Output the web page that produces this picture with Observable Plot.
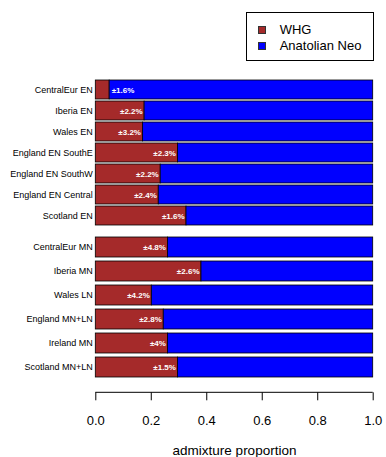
<!DOCTYPE html>
<html><head><meta charset="utf-8">
<script src="https://cdn.jsdelivr.net/npm/d3@7"></script>
<script src="https://cdn.jsdelivr.net/npm/@observablehq/plot@0.6"></script>
<style>
body{margin:0;background:#fff;font-family:"Liberation Sans",Arial,Helvetica,sans-serif;}
#wrap{position:relative;width:386px;height:457px;overflow:hidden;}
#wrap svg{display:block;}
.legend{position:absolute;left:246px;top:12px;width:128px;height:49px;border:1px solid #000;box-sizing:border-box;background:#fff;}
.legend .sw{position:absolute;left:11px;width:8px;height:8px;box-sizing:border-box;border:1px solid #333;}
.legend .lb{position:absolute;left:32.7px;font-size:13px;line-height:16px;color:#000;white-space:nowrap;}
</style>
</head><body>
<div id="wrap"></div>
<script>
const groupEN = ["CentralEur EN","Iberia EN","Wales EN","England EN SouthE","England EN SouthW","England EN Central","Scotland EN"];
const whgEN = [0.05,0.176,0.17,0.296,0.234,0.227,0.327];
const errEN = [1.6,2.2,3.2,2.3,2.2,2.4,1.6];
const groupMN = ["CentralEur MN","Iberia MN","Wales LN","England MN+LN","Ireland MN","Scotland MN+LN"];
const whgMN = [0.26,0.381,0.202,0.245,0.26,0.296];
const errMN = [4.8,2.6,4.2,2.8,4,1.5];
const series = ["WHG","Anatolian Neo"];
const colors = ["#a52a2a","#0000ff"];
const xTicks = [0,0.2,0.4,0.6,0.8,1.0];
const axisTitle = "admixture proportion";

const font = "'Liberation Sans', Arial, Helvetica, sans-serif";

function panel(cats, whg, err, {height, marginTop, marginBottom, padding, withAxis}) {
  const segs = [];
  const labels = [];
  cats.forEach((c, i) => {
    segs.push({cat: c, s: series[0], x1: 0, x2: whg[i]});
    segs.push({cat: c, s: series[1], x1: whg[i], x2: 1});
    labels.push({cat: c, x: whg[i], t: `±${err[i]}%`});
  });
  const marks = [
    Plot.barX(segs, {y: "cat", x1: "x1", x2: "x2", fill: "s", stroke: "#000", strokeWidth: 0.8}),
    Plot.text(labels.filter(d => d.x >= 0.1), {y: "cat", x: "x", text: "t", textAnchor: "end", dx: -2, fill: "white", fontWeight: "bold", fontSize: 8}),
    Plot.text(labels.filter(d => d.x < 0.1), {y: "cat", x: "x", text: "t", textAnchor: "start", dx: 2, fill: "white", fontWeight: "bold", fontSize: 8}),
    Plot.axisY({tickSize: 0, tickPadding: 3, fontSize: 9, label: null, fill: "#000"})
  ];
  if (withAxis) {
    marks.push(Plot.axisX({ticks: xTicks, tickFormat: d3.format(".1f"), tickSize: 8, tickPadding: 15, fontSize: 13, dy: 11.3, label: null}));
    marks.push((index, scales, values, dims) => {
      const y = dims.height - dims.marginBottom + 11.3;
      const line = d3.create("svg:line")
        .attr("x1", scales.x(xTicks[0])).attr("x2", scales.x(xTicks[xTicks.length - 1]))
        .attr("y1", y).attr("y2", y).attr("stroke", "#000");
      return line.node();
    });
    marks.push(Plot.text([axisTitle], {frameAnchor: "bottom", dy: 73, fontSize: 13.5, fill: "#000"}));
  }
  return Plot.plot({
    width: 386, height, marginTop, marginBottom,
    marginLeft: 95.3, marginRight: 13.3,
    style: {fontFamily: font, background: "white", color: "#000"},
    x: {domain: [0, 1], axis: null},
    y: {domain: cats, paddingInner: padding, paddingOuter: padding / 2, axis: null},
    color: {domain: series, range: colors},
    marks
  });
}

const wrap = document.getElementById("wrap");
wrap.appendChild(panel(groupEN, whgEN, errEN, {height: 230, marginTop: 79.2, marginBottom: 3.8, padding: 0.11, withAxis: false}));
wrap.appendChild(panel(groupMN, whgMN, errMN, {height: 227, marginTop: 2.6, marginBottom: 76, padding: 0.167, withAxis: true}));

const leg = document.createElement("div");
leg.className = "legend";
series.forEach((s, i) => {
  const sw = document.createElement("div");
  sw.className = "sw";
  sw.style.top = (12.7 + i * 16) + "px";
  sw.style.background = colors[i];
  leg.appendChild(sw);
  const lb = document.createElement("div");
  lb.className = "lb";
  lb.style.top = (8.7 + i * 16) + "px";
  lb.textContent = s;
  leg.appendChild(lb);
});
wrap.appendChild(leg);
</script>
</body></html>
